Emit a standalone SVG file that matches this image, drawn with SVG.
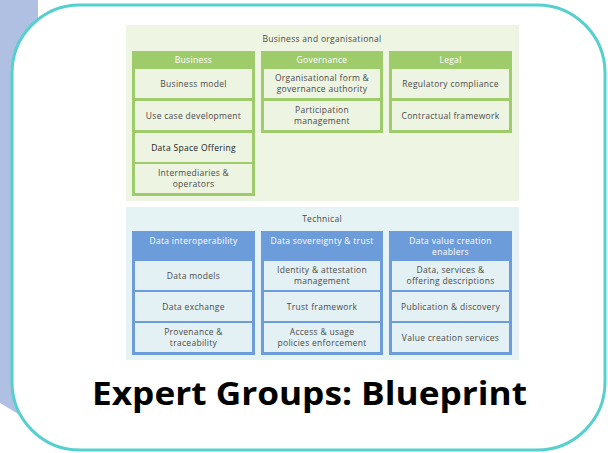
<svg xmlns="http://www.w3.org/2000/svg" width="608" height="453" viewBox="0 0 608 453">
<style>
.t{font-family:"Open Sans","Noto Sans","Liberation Sans",sans-serif;font-size:8.5px;letter-spacing:0.3px;fill:#4a4a4a;text-anchor:middle}
.h{font-family:"Open Sans","Noto Sans","Liberation Sans",sans-serif;font-size:8.5px;letter-spacing:0.3px;fill:#fff;text-anchor:middle}
.gc{fill:#9fcc6b}
.gcell{fill:#edf4e2}
.bc{fill:#6d9cda}
.bcell{fill:#e4f1f4}
</style>
<rect width="608" height="453" fill="#fff"/>
<polygon points="0,0 38,0 38,420 20,415 0,403" fill="#b0c0e2"/>
<rect id="card" x="12" y="5" width="593" height="445" rx="68" ry="68" fill="#fff" stroke="#56cfcf" stroke-width="3"/>
<g id="business-org">
<rect x="126" y="25" width="393" height="176" fill="#eef6e3"/>
<text class="t" x="322" y="42">Business and organisational</text>
</g>
<g id="business">
<rect class="gc" x="132" y="51" width="123" height="145"/>
<text class="h" x="193.5" y="63">Business</text>
<rect class="gcell" x="135" y="69" width="117" height="29"/>
<text class="t" x="193.5" y="86.5">Business model</text>
<rect class="gcell" x="135" y="101" width="117" height="29"/>
<text class="t" x="193.5" y="118.5">Use case development</text>
<rect class="gcell" x="135" y="133" width="117" height="29"/>
<text class="t" x="193.5" y="150.5" style="fill:#222">Data Space Offering</text>
<rect class="gcell" x="135" y="164" width="117" height="29"/>
<text class="t" x="193.5" y="176">Intermediaries &amp;</text>
<text class="t" x="193.5" y="187">operators</text>
</g>
<g id="governance">
<rect class="gc" x="261" y="51" width="122" height="82"/>
<text class="h" x="322" y="63">Governance</text>
<rect class="gcell" x="264" y="69" width="116" height="29"/>
<text class="t" x="322" y="80.5">Organisational form &amp;</text>
<text class="t" x="322" y="91.5">governance authority</text>
<rect class="gcell" x="264" y="101" width="116" height="29"/>
<text class="t" x="322" y="112.5">Participation</text>
<text class="t" x="322" y="123.5">management</text>
</g>
<g id="legal">
<rect class="gc" x="389" y="51" width="123" height="82"/>
<text class="h" x="450.5" y="63">Legal</text>
<rect class="gcell" x="392" y="69" width="117" height="29"/>
<text class="t" x="450.5" y="86.5">Regulatory compliance</text>
<rect class="gcell" x="392" y="101" width="117" height="29"/>
<text class="t" x="450.5" y="118.5">Contractual framework</text>
</g>
<g id="technical">
<rect x="126" y="207" width="393" height="153" fill="#e5f3f5"/>
<text class="t" x="322" y="222">Technical</text>
</g>
<g id="interop">
<rect class="bc" x="132" y="231" width="123" height="124"/>
<text class="h" x="193.5" y="244">Data interoperability</text>
<rect class="bcell" x="135" y="261" width="117" height="29"/>
<text class="t" x="193.5" y="278.5">Data models</text>
<rect class="bcell" x="135" y="292" width="117" height="29"/>
<text class="t" x="193.5" y="309.5">Data exchange</text>
<rect class="bcell" x="135" y="323" width="117" height="29"/>
<text class="t" x="193.5" y="335">Provenance &amp;</text>
<text class="t" x="193.5" y="346">traceability</text>
</g>
<g id="sovereignty">
<rect class="bc" x="261" y="231" width="122" height="124"/>
<text class="h" x="322" y="244">Data sovereignty &amp; trust</text>
<rect class="bcell" x="264" y="261" width="116" height="29"/>
<text class="t" x="322" y="273">Identity &amp; attestation</text>
<text class="t" x="322" y="284">management</text>
<rect class="bcell" x="264" y="292" width="116" height="29"/>
<text class="t" x="322" y="309.5">Trust framework</text>
<rect class="bcell" x="264" y="323" width="116" height="29"/>
<text class="t" x="322" y="335">Access &amp; usage</text>
<text class="t" x="322" y="346">policies enforcement</text>
</g>
<g id="value">
<rect class="bc" x="389" y="231" width="123" height="124"/>
<text class="h" x="450.5" y="244">Data value creation</text>
<text class="h" x="450.5" y="255">enablers</text>
<rect class="bcell" x="392" y="261" width="117" height="29"/>
<text class="t" x="450.5" y="273">Data, services &amp;</text>
<text class="t" x="450.5" y="284">offering descriptions</text>
<rect class="bcell" x="392" y="292" width="117" height="29"/>
<text class="t" x="450.5" y="309.5">Publication &amp; discovery</text>
<rect class="bcell" x="392" y="323" width="117" height="29"/>
<text class="t" x="450.5" y="340.5">Value creation services</text>
</g>
<g id="connectors"></g>
<text x="309.5" y="405" font-family="'Open Sans','Liberation Sans',sans-serif" font-weight="bold" font-size="32" text-anchor="middle" fill="#000" textLength="435" lengthAdjust="spacingAndGlyphs">Expert Groups: Blueprint</text>
</svg>
